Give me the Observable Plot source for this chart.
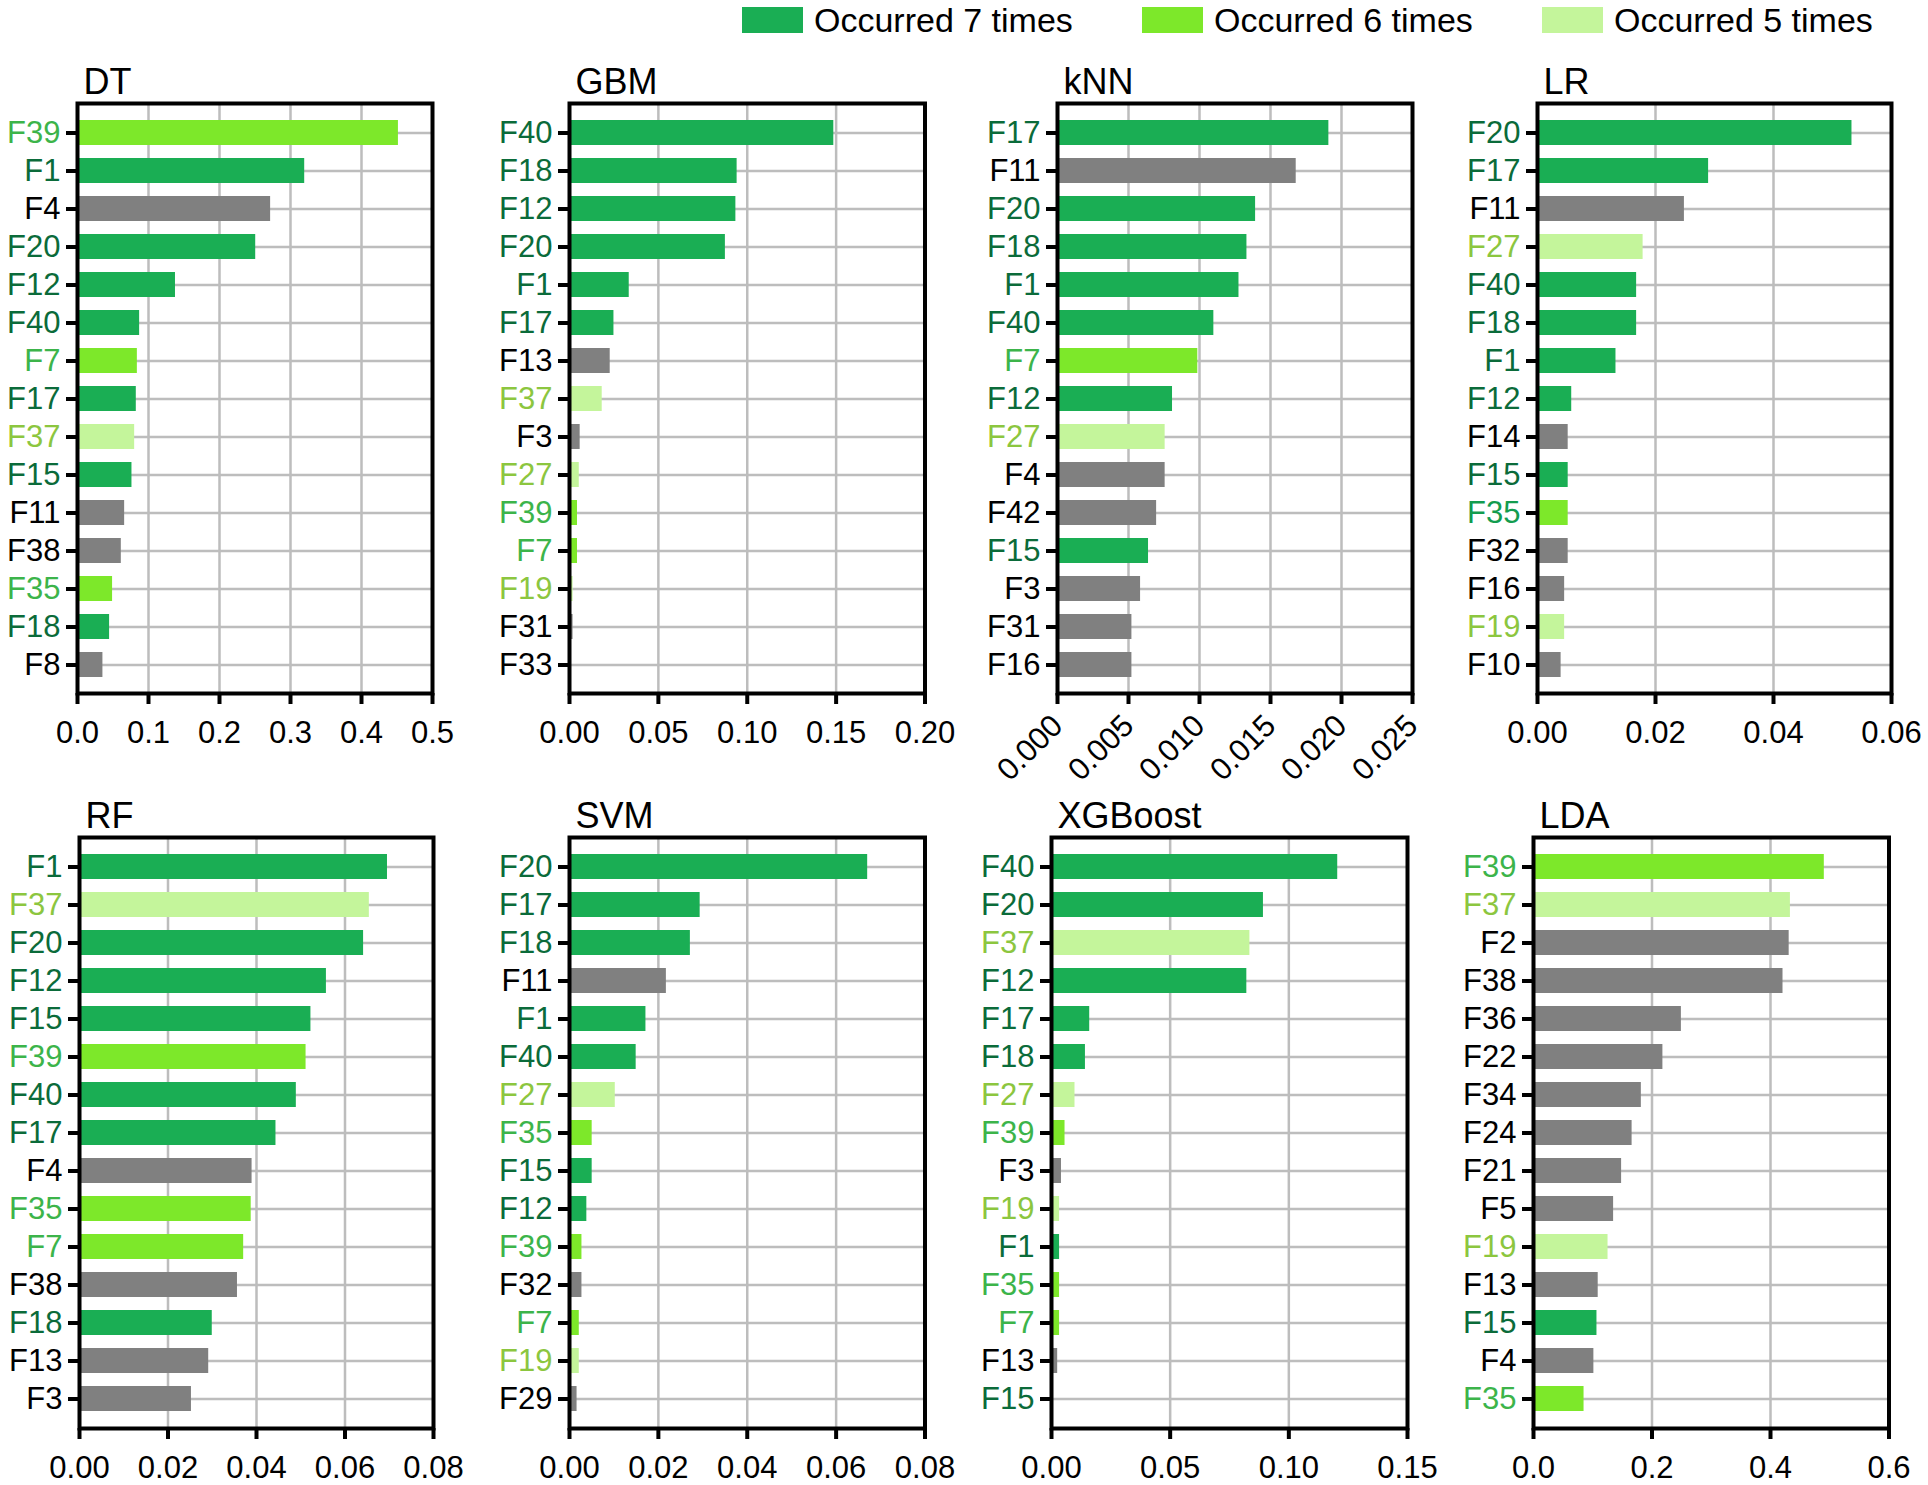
<!DOCTYPE html>
<html>
<head>
<meta charset="utf-8">
<script src="https://cdn.jsdelivr.net/npm/d3@7"></script>
<script src="https://cdn.jsdelivr.net/npm/@observablehq/plot@0.6"></script>
<style>
  html, body { margin: 0; padding: 0; background: #fff; }
  #root { position: relative; width: 1928px; height: 1485px; font-family: "Liberation Sans", Arial, sans-serif; overflow: hidden; }
  .panel { position: absolute; }
  .legend-swatch { position: absolute; width: 61px; height: 26px; }
  .legend-text { position: absolute; font-size: 34px; line-height: 34px; color: #000; white-space: nowrap; }
</style>
</head>
<body>
<div id="root"></div>
<script>
// ---- groups (how often a feature occurred among the top features) ----
const occurred7 = ["F1", "F12", "F15", "F17", "F18", "F20", "F40"];
const occurred6 = ["F7", "F35", "F39"];
const occurred5 = ["F19", "F27", "F37"];
const legendLabels = ["Occurred 7 times", "Occurred 6 times", "Occurred 5 times"];

// ---- panel data ----
const dtFeatures = ["F39","F1","F4","F20","F12","F40","F7","F17","F37","F15","F11","F38","F35","F18","F8"];
const dtValues   = [0.452,0.320,0.272,0.251,0.138,0.0875,0.0843,0.0828,0.0805,0.0767,0.0664,0.0617,0.0494,0.0452,0.0358];
const dtTicks    = [0, 0.1, 0.2, 0.3, 0.4, 0.5];

const gbmFeatures = ["F40","F18","F12","F20","F1","F17","F13","F37","F3","F27","F39","F7","F19","F31","F33"];
const gbmValues   = [0.1487,0.0943,0.0936,0.0877,0.0336,0.0250,0.0229,0.0184,0.0060,0.0055,0.0045,0.0045,0.0020,0.0020,0.0010];
const gbmTicks    = [0, 0.05, 0.10, 0.15, 0.20];

const knnFeatures = ["F17","F11","F20","F18","F1","F40","F7","F12","F27","F4","F42","F15","F3","F31","F16"];
const knnValues   = [0.01911,0.01681,0.01395,0.01334,0.01278,0.01101,0.00988,0.00810,0.00758,0.00758,0.00698,0.00641,0.00585,0.00524,0.00524];
const knnTicks    = [0, 0.005, 0.010, 0.015, 0.020, 0.025];

const lrFeatures = ["F20","F17","F11","F27","F40","F18","F1","F12","F14","F15","F35","F32","F16","F19","F10"];
const lrValues   = [0.0533,0.0290,0.0249,0.0179,0.0168,0.0168,0.0133,0.0058,0.0052,0.0052,0.0052,0.0052,0.0046,0.0046,0.0040];
const lrTicks    = [0, 0.02, 0.04, 0.06];

const rfFeatures = ["F1","F37","F20","F12","F15","F39","F40","F17","F4","F35","F7","F38","F18","F13","F3"];
const rfValues   = [0.0696,0.0655,0.0642,0.0558,0.0523,0.0512,0.0490,0.0444,0.0390,0.0388,0.0371,0.0357,0.0300,0.0292,0.0253];
const rfTicks    = [0, 0.02, 0.04, 0.06, 0.08];

const svmFeatures = ["F20","F17","F18","F11","F1","F40","F27","F35","F15","F12","F39","F32","F7","F19","F29"];
const svmValues   = [0.0671,0.0294,0.0272,0.0218,0.0172,0.0150,0.0103,0.0051,0.0051,0.0039,0.0028,0.0028,0.0022,0.0022,0.0017];
const svmTicks    = [0, 0.02, 0.04, 0.06, 0.08];

const xgbFeatures = ["F40","F20","F37","F12","F17","F18","F27","F39","F3","F19","F1","F35","F7","F13","F15"];
const xgbValues   = [0.1206,0.0893,0.0836,0.0823,0.0161,0.0143,0.0099,0.0057,0.0042,0.0034,0.0034,0.0034,0.0034,0.0026,0.0005];
const xgbTicks    = [0, 0.05, 0.10, 0.15];

const ldaFeatures = ["F39","F37","F2","F38","F36","F22","F34","F24","F21","F5","F19","F13","F15","F4","F35"];
const ldaValues   = [0.4908,0.4336,0.4315,0.4211,0.2496,0.2184,0.1820,0.1664,0.1487,0.1352,0.1258,0.1092,0.1071,0.1019,0.0853];
const ldaTicks    = [0, 0.2, 0.4, 0.6];

// ---- styling ----
const barColors   = {g7: "#1aae54", g6: "#7de82a", g5: "#c4f59b", other: "#808080"};
const labelColors = {g7: "#0b6b3a", g6: "#3cb44a", g5: "#8cc63f", other: "#000000"};
const labelOverride = {"LR:F35": "#139c4f"};
const FONT = '"Liberation Sans", Arial, sans-serif';

function groupOf(f) {
  if (occurred7.includes(f)) return "g7";
  if (occurred6.includes(f)) return "g6";
  if (occurred5.includes(f)) return "g5";
  return "other";
}

const panels = [
  {name: "DT",      features: dtFeatures,  values: dtValues,  ticks: dtTicks,  fmt: ".1f", left: 77,   right: 432,  top: 103, bottom: 693},
  {name: "GBM",     features: gbmFeatures, values: gbmValues, ticks: gbmTicks, fmt: ".2f", left: 568.5, right: 924, top: 103, bottom: 693},
  {name: "kNN",     features: knnFeatures, values: knnValues, ticks: knnTicks, fmt: ".3f", left: 1057, right: 1412, top: 103, bottom: 693, rotate: -45},
  {name: "LR",      features: lrFeatures,  values: lrValues,  ticks: lrTicks,  fmt: ".2f", left: 1537, right: 1891, top: 103, bottom: 693},
  {name: "RF",      features: rfFeatures,  values: rfValues,  ticks: rfTicks,  fmt: ".2f", left: 79,   right: 433,  top: 837, bottom: 1428},
  {name: "SVM",     features: svmFeatures, values: svmValues, ticks: svmTicks, fmt: ".2f", left: 568.5, right: 924, top: 837, bottom: 1428},
  {name: "XGBoost", features: xgbFeatures, values: xgbValues, ticks: xgbTicks, fmt: ".2f", left: 1051, right: 1407, top: 837, bottom: 1428},
  {name: "LDA",     features: ldaFeatures, values: ldaValues, ticks: ldaTicks, fmt: ".1f", left: 1532.5, right: 1888, top: 837, bottom: 1428}
];

const root = document.getElementById("root");
const mL = 80, mR = 25, mT = 50, mB = 88;

for (const p of panels) {
  const rows = p.features.map((f, i) => ({feature: f, value: p.values[i]}));
  const W = (p.right - p.left) + mL + mR;
  const H = (p.bottom - p.top) + mT + mB;
  const chart = Plot.plot({
    width: W,
    height: H,
    marginLeft: mL, marginRight: mR, marginTop: mT, marginBottom: mB,
    style: {fontFamily: FONT, background: "transparent", overflow: "visible"},
    x: {domain: [0, d3.max(p.ticks)], label: null},
    y: {domain: p.features, paddingInner: 0.35, paddingOuter: 0.33, label: null},
    color: {type: "identity"},
    marks: [
      Plot.gridX({ticks: p.ticks, stroke: "#bdbdbd", strokeWidth: 2.5, strokeOpacity: 1}),
      Plot.gridY({stroke: "#bdbdbd", strokeWidth: 2.5, strokeOpacity: 1}),
      Plot.barX(rows, {x: "value", y: "feature", fill: d => barColors[groupOf(d.feature)]}),
      Plot.frame({stroke: "black", strokeWidth: 4}),
      Plot.axisY({tickSize: 11, tickFormat: () => "", stroke: "black", strokeWidth: 4}),
      Plot.axisX({ticks: p.ticks, tickFormat: d3.format(p.fmt), tickSize: 11, tickPadding: 16,
                  fontSize: 31, stroke: "black", fill: "black", strokeWidth: 4, tickRotate: p.rotate || 0}),
      Plot.text(rows, {y: "feature", text: "feature", frameAnchor: "left", textAnchor: "end", dx: -17,
                       fontSize: 31, fill: d => labelOverride[p.name + ":" + d.feature] || labelColors[groupOf(d.feature)]}),
      Plot.text([p.name], {text: d => d, frameAnchor: "top-left", dx: 6, dy: -10, textAnchor: "start",
                           lineAnchor: "bottom", fontSize: 36, fill: "black"})
    ]
  });
  const div = document.createElement("div");
  div.className = "panel";
  div.style.left = (p.left - mL) + "px";
  div.style.top = (p.top - mT) + "px";
  div.appendChild(chart);
  root.appendChild(div);
}

// ---- legend ----
const legendX = [742, 1142, 1542];
const legendKeys = ["g7", "g6", "g5"];
legendLabels.forEach((lab, i) => {
  const sw = document.createElement("div");
  sw.className = "legend-swatch";
  sw.style.left = legendX[i] + "px";
  sw.style.top = "7px";
  sw.style.background = barColors[legendKeys[i]];
  root.appendChild(sw);
  const tx = document.createElement("div");
  tx.className = "legend-text";
  tx.style.left = (legendX[i] + 72) + "px";
  tx.style.top = "3px";
  tx.textContent = lab;
  root.appendChild(tx);
});
</script>
</body>
</html>
